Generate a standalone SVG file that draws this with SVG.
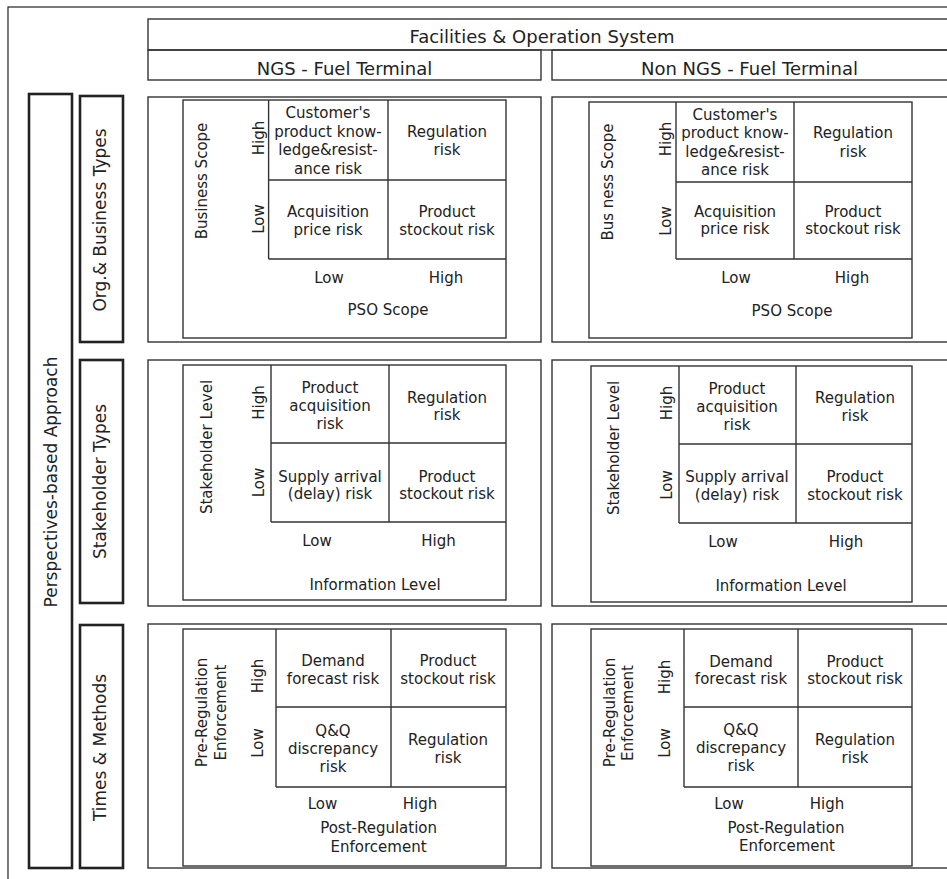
<svg xmlns="http://www.w3.org/2000/svg" width="947" height="879" viewBox="0 0 947 879">
<style>
.ln{fill:none;stroke:#333;stroke-width:1.4}
.fr{fill:none;stroke:#222;stroke-width:1.2}
.tk{fill:none;stroke:#222;stroke-width:2.6}
text{font-family:"DejaVu Sans","Liberation Sans",sans-serif;fill:#222;text-anchor:middle}
.c{font-size:15px}
.h{font-size:18px}
.s{font-size:17px}
.v{dominant-baseline:central}
</style>
<rect width="947" height="879" fill="#fff"/>
<g id="frame"><rect class="fr" x="8" y="7" width="960" height="900"/></g>
<g id="header-fos"><rect class="ln" x="148" y="19" width="820" height="31"/><text class="h" x="542" y="43">Facilities &amp; Operation System</text></g>
<g id="header-ngs"><rect class="ln" x="148" y="50" width="393" height="30"/><text class="h" x="344.5" y="75">NGS - Fuel Terminal</text></g>
<g id="header-nonngs"><rect class="ln" x="552" y="50" width="420" height="30"/><text class="h" x="749.5" y="75">Non NGS - Fuel Terminal</text></g>
<g id="perspectives"><rect class="tk" x="29" y="94" width="43" height="774"/><text class="s v" transform="translate(51,482) rotate(-90)">Perspectives-based Approach</text></g>
<g id="row-org"><rect class="tk" x="80" y="96" width="43" height="246"/><text class="s v" transform="translate(100,220) rotate(-90)">Org.&amp; Business Types</text></g>
<g id="row-stakeholder"><rect class="tk" x="80" y="360" width="43" height="243"/><text class="s v" transform="translate(100,481.5) rotate(-90)">Stakeholder Types</text></g>
<g id="row-times"><rect class="tk" x="80" y="625" width="43" height="243"/><text class="s v" transform="translate(100,747.5) rotate(-90)">Times &amp; Methods</text></g>

<g id="panel-org-ngs">
<rect class="ln" x="148" y="97" width="393" height="245"/>
<rect class="ln" x="183" y="100" width="323" height="238"/>
<path class="ln" d="M268.6 100V259M388 100V259M268.6 180H506M268.6 259H506"/>
<text class="c v" transform="translate(202,181) rotate(-90)">Business Scope</text>
<text class="c v" transform="translate(259,138) rotate(-90)">High</text>
<text class="c v" transform="translate(259,219) rotate(-90)">Low</text>
<text class="c" x="328" y="118">Customer's</text>
<text class="c" x="328" y="136.5">product know-</text>
<text class="c" x="328" y="155">ledge&amp;resist-</text>
<text class="c" x="328" y="173.5">ance risk</text>
<text class="c" x="447" y="137">Regulation</text>
<text class="c" x="447" y="155">risk</text>
<text class="c" x="328" y="217">Acquisition</text>
<text class="c" x="328" y="235">price risk</text>
<text class="c" x="447" y="217">Product</text>
<text class="c" x="447" y="235">stockout risk</text>
<text class="c" x="329" y="283">Low</text>
<text class="c" x="446" y="283">High</text>
<text class="c" x="388" y="315">PSO Scope</text>
</g>

<g id="panel-org-nonngs">
<rect class="ln" x="552" y="97" width="420" height="245"/>
<rect class="ln" x="589" y="102" width="323" height="236"/>
<path class="ln" d="M676 102V259M794 102V259M676 182H912M676 259H912"/>
<text class="c v" transform="translate(608,182) rotate(-90)">Bus ness Scope</text>
<text class="c v" transform="translate(666,139) rotate(-90)">High</text>
<text class="c v" transform="translate(666,221) rotate(-90)">Low</text>
<text class="c" x="735" y="120">Customer's</text>
<text class="c" x="735" y="138">product know-</text>
<text class="c" x="735" y="157">ledge&amp;resist-</text>
<text class="c" x="735" y="175">ance risk</text>
<text class="c" x="853" y="138">Regulation</text>
<text class="c" x="853" y="157">risk</text>
<text class="c" x="735" y="217">Acquisition</text>
<text class="c" x="735" y="234">price risk</text>
<text class="c" x="853" y="217">Product</text>
<text class="c" x="853" y="234">stockout risk</text>
<text class="c" x="736" y="283">Low</text>
<text class="c" x="852" y="283">High</text>
<text class="c" x="792" y="316">PSO Scope</text>
</g>

<g id="panel-stake-ngs">
<rect class="ln" x="148" y="360" width="393" height="246"/>
<rect class="ln" x="183" y="365" width="323" height="235"/>
<path class="ln" d="M271 365V522M389 365V522M271 443H506M271 522H506"/>
<text class="c v" transform="translate(207,447) rotate(-90)">Stakeholder Level</text>
<text class="c v" transform="translate(259,402.5) rotate(-90)">High</text>
<text class="c v" transform="translate(259,482.5) rotate(-90)">Low</text>
<text class="c" x="330" y="393">Product</text>
<text class="c" x="330" y="411">acquisition</text>
<text class="c" x="330" y="429">risk</text>
<text class="c" x="447" y="403">Regulation</text>
<text class="c" x="447" y="420">risk</text>
<text class="c" x="330" y="482">Supply arrival</text>
<text class="c" x="330" y="499">(delay) risk</text>
<text class="c" x="447" y="482">Product</text>
<text class="c" x="447" y="499">stockout risk</text>
<text class="c" x="317" y="546">Low</text>
<text class="c" x="438.5" y="546">High</text>
<text class="c" x="375" y="590">Information Level</text>
</g>

<g id="panel-stake-nonngs">
<rect class="ln" x="552" y="360" width="420" height="246"/>
<rect class="ln" x="591" y="366" width="321" height="236"/>
<path class="ln" d="M679 366V523M796 366V523M679 444H912M679 523H912"/>
<text class="c v" transform="translate(614,448) rotate(-90)">Stakeholder Level</text>
<text class="c v" transform="translate(667,403) rotate(-90)">High</text>
<text class="c v" transform="translate(667,485) rotate(-90)">Low</text>
<text class="c" x="737" y="394">Product</text>
<text class="c" x="737" y="412">acquisition</text>
<text class="c" x="737" y="430">risk</text>
<text class="c" x="855" y="403">Regulation</text>
<text class="c" x="855" y="421">risk</text>
<text class="c" x="737" y="482">Supply arrival</text>
<text class="c" x="737" y="500">(delay) risk</text>
<text class="c" x="855" y="482">Product</text>
<text class="c" x="855" y="500">stockout risk</text>
<text class="c" x="723" y="547">Low</text>
<text class="c" x="846" y="547">High</text>
<text class="c" x="781" y="591">Information Level</text>
</g>

<g id="panel-times-ngs">
<rect class="ln" x="148" y="624" width="393" height="244"/>
<rect class="ln" x="183" y="629" width="323" height="237"/>
<path class="ln" d="M276 629V787M391 629V787M276 707H506M276 787H506"/>
<text class="c v" transform="translate(202,712.5) rotate(-90)">Pre-Regulation</text>
<text class="c v" transform="translate(221,712.5) rotate(-90)">Enforcement</text>
<text class="c v" transform="translate(258,676) rotate(-90)">High</text>
<text class="c v" transform="translate(258,743) rotate(-90)">Low</text>
<text class="c" x="333" y="666">Demand</text>
<text class="c" x="333" y="684">forecast risk</text>
<text class="c" x="448" y="666">Product</text>
<text class="c" x="448" y="684">stockout risk</text>
<text class="c" x="333" y="736">Q&amp;Q</text>
<text class="c" x="333" y="754">discrepancy</text>
<text class="c" x="333" y="772">risk</text>
<text class="c" x="448" y="745">Regulation</text>
<text class="c" x="448" y="763">risk</text>
<text class="c" x="322.5" y="809">Low</text>
<text class="c" x="420" y="809">High</text>
<text class="c" x="378.6" y="833">Post-Regulation</text>
<text class="c" x="378.6" y="852">Enforcement</text>
</g>

<g id="panel-times-nonngs">
<rect class="ln" x="552" y="624" width="420" height="244"/>
<rect class="ln" x="591" y="629" width="321" height="237"/>
<path class="ln" d="M684 629V787M798 629V787M684 707H912M684 787H912"/>
<text class="c v" transform="translate(610,712.5) rotate(-90)">Pre-Regulation</text>
<text class="c v" transform="translate(628,713) rotate(-90)">Enforcement</text>
<text class="c v" transform="translate(665,677) rotate(-90)">High</text>
<text class="c v" transform="translate(665,743) rotate(-90)">Low</text>
<text class="c" x="741" y="667">Demand</text>
<text class="c" x="741" y="684">forecast risk</text>
<text class="c" x="855" y="667">Product</text>
<text class="c" x="855" y="684">stockout risk</text>
<text class="c" x="741" y="735">Q&amp;Q</text>
<text class="c" x="741" y="753">discrepancy</text>
<text class="c" x="741" y="771">risk</text>
<text class="c" x="855" y="745">Regulation</text>
<text class="c" x="855" y="763">risk</text>
<text class="c" x="729" y="809">Low</text>
<text class="c" x="827" y="809">High</text>
<text class="c" x="786" y="833">Post-Regulation</text>
<text class="c" x="787" y="851">Enforcement</text>
</g>
<g id="connectors"/>
</svg>
